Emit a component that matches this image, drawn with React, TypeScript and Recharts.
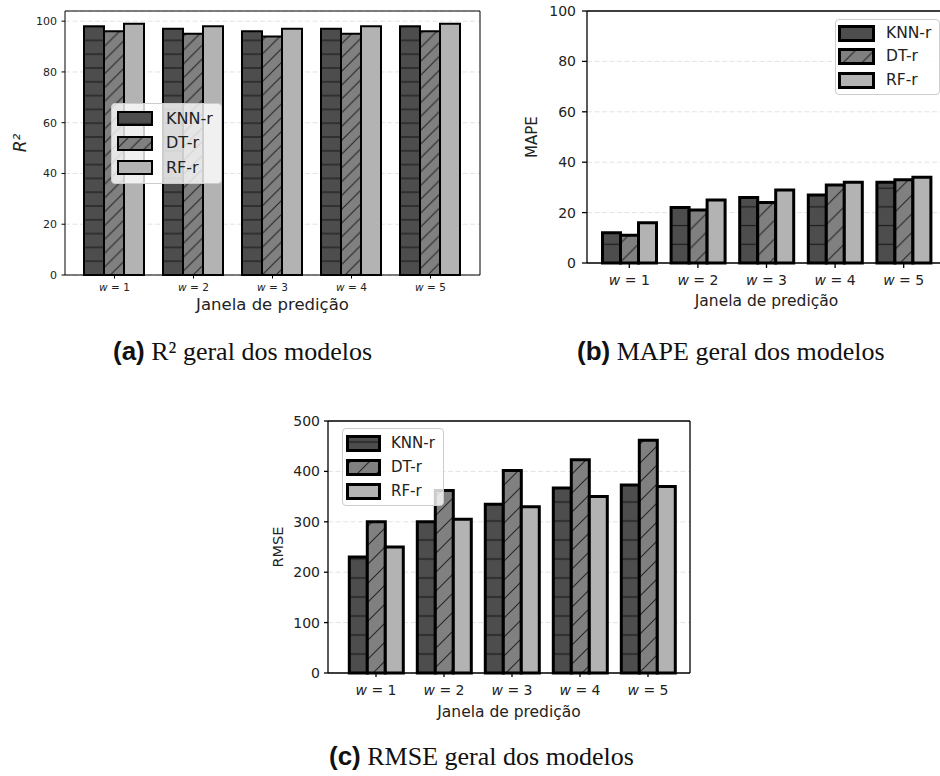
import React from 'react';
import { BarChart, Bar, XAxis, YAxis, CartesianGrid, Legend } from 'recharts';

const windows = [1, 2, 3, 4, 5];

const r2Knn = [98, 97, 96, 97, 98];
const r2Dt = [96, 95, 94, 95, 96];
const r2Rf = [99, 98, 97, 98, 99];

const mapeKnn = [12, 22, 26, 27, 32];
const mapeDt = [11, 21, 24, 31, 33];
const mapeRf = [16, 25, 29, 32, 34];

const rmseKnn = [230, 300, 335, 367, 373];
const rmseDt = [300, 362, 402, 423, 462];
const rmseRf = [250, 305, 330, 350, 370];

const r2Ticks = [0, 20, 40, 60, 80, 100];
const mapeTicks = [0, 20, 40, 60, 80, 100];
const rmseTicks = [0, 100, 200, 300, 400, 500];

const seriesNames = ['KNN-r', 'DT-r', 'RF-r'];
const seriesKeys = ['knn', 'dt', 'rf'];

const FONT = '"DejaVu Sans", Verdana, sans-serif';

type Row = { w: number; knn: number; dt: number; rf: number };

const toRows = (knn: number[], dt: number[], rf: number[]): Row[] =>
  windows.map((w, i) => ({ w, knn: knn[i], dt: dt[i], rf: rf[i] }));

interface PanelProps {
  id: string;
  left: number;
  top: number;
  width: number;
  height: number;
  margin: { top: number; right: number; bottom: number; left: number };
  data: Row[];
  domain: [number, number];
  ticks: number[];
  yLabel: string;
  yLabelItalic?: boolean;
  yLabelX: number;
  yLabelSize: number;
  yAxisWidth: number;
  xAxisHeight: number;
  xPad: { left: number; right: number };
  catGap: number;
  tickSize: number;
  yTickMargin: number;
  xTickMargin: number;
  tickFont: number;
  xTickFont: number;
  xLabelSize: number;
  xLabelBaseline: number;
  hatch: number;
  edge: number;
  spine: number;
  legend: { left: number; top: number; swW: number; swH: number; row: number; gap: number; font: number; padL: number; padT: number; padR: number };
}

function WTick({ x, y, payload, fontSize }: any) {
  return (
    <text x={x} y={y} dy="0.71em" textAnchor="middle" fontSize={fontSize} fill="#222" fontFamily={FONT}>
      <tspan fontStyle="italic">w</tspan>
      <tspan> = {payload.value}</tspan>
    </text>
  );
}

function Panel(p: PanelProps) {
  const plotBottom = p.height - p.margin.bottom - p.xAxisHeight;
  const s = p.hatch;
  const lg = p.legend;

  const legendContent = () => (
    <div
      style={{
        background: 'rgba(255,255,255,0.8)',
        border: '1px solid #cccccc',
        borderRadius: 4,
        padding: `${lg.padT}px ${lg.padR}px ${lg.padT}px ${lg.padL}px`,
        fontFamily: FONT,
      }}
    >
      {seriesKeys.map((k, i) => (
        <div key={k} style={{ display: 'flex', alignItems: 'center', height: lg.row }}>
          <svg width={lg.swW} height={lg.swH} style={{ display: 'block' }}>
            <rect
              x={p.edge / 2}
              y={p.edge / 2}
              width={lg.swW - p.edge}
              height={lg.swH - p.edge}
              fill={`url(#${k}-${p.id})`}
              stroke="#000"
              strokeWidth={p.edge}
            />
          </svg>
          <span style={{ marginLeft: lg.gap, fontSize: lg.font, color: '#222', lineHeight: 1 }}>{seriesNames[i]}</span>
        </div>
      ))}
    </div>
  );

  return (
    <div style={{ position: 'absolute', left: p.left, top: p.top }}>
      <BarChart
        width={p.width}
        height={p.height}
        data={p.data}
        margin={p.margin}
        barGap={0}
        barCategoryGap={p.catGap}
      >
        <defs>
          <pattern id={`knn-${p.id}`} patternUnits="userSpaceOnUse" width={s} height={s} y={plotBottom - s / 2}>
            <rect width={s} height={s} fill="#4d4d4d" />
            <line x1={0} x2={s} y1={s / 2} y2={s / 2} stroke="#1c1c1c" strokeWidth={1.2} />
          </pattern>
          <pattern id={`dt-${p.id}`} patternUnits="userSpaceOnUse" width={s} height={s} y={plotBottom}>
            <rect width={s} height={s} fill="#808080" />
            <path
              d={`M0,${s} L${s},0 M${-s / 2},${s / 2} L${s / 2},${-s / 2} M${s / 2},${1.5 * s} L${1.5 * s},${s / 2}`}
              stroke="#262626"
              strokeWidth={1.1}
            />
          </pattern>
          <pattern id={`rf-${p.id}`} patternUnits="userSpaceOnUse" width={s} height={s}>
            <rect width={s} height={s} fill="#b3b3b3" />
          </pattern>
        </defs>
        <CartesianGrid vertical={false} stroke="#e3e3e3" strokeDasharray="5 2.5" />
        {/* top and right spines */}
        <CartesianGrid
          stroke="#000"
          strokeWidth={p.spine}
          horizontalCoordinatesGenerator={({ offset }: any) => [offset.top]}
          verticalCoordinatesGenerator={({ offset }: any) => [offset.left + offset.width]}
        />
        <XAxis
          dataKey="w"
          height={p.xAxisHeight}
          padding={p.xPad}
          axisLine={{ stroke: '#000', strokeWidth: p.spine }}
          tickLine={{ stroke: '#000', strokeWidth: p.spine }}
          tickSize={p.tickSize}
          tickMargin={p.xTickMargin}
          tick={<WTick fontSize={p.xTickFont} />}
          label={{
            content: (lp: any) => {
              const vb = lp.viewBox;
              return (
                <text
                  x={vb.x + vb.width / 2}
                  y={p.xLabelBaseline}
                  textAnchor="middle"
                  fontSize={p.xLabelSize}
                  fill="#222"
                  fontFamily={FONT}
                >
                  Janela de predição
                </text>
              );
            },
          }}
        />
        <YAxis
          domain={p.domain}
          ticks={p.ticks}
          width={p.yAxisWidth}
          axisLine={{ stroke: '#000', strokeWidth: p.spine }}
          tickLine={{ stroke: '#000', strokeWidth: p.spine }}
          tickSize={p.tickSize}
          tickMargin={p.yTickMargin}
          tick={{ fontSize: p.tickFont, fill: '#222', fontFamily: FONT }}
          label={{
            content: (lp: any) => {
              const vb = lp.viewBox;
              const cy = vb.y + vb.height / 2;
              return (
                <text
                  x={p.yLabelX}
                  y={cy}
                  transform={`rotate(-90 ${p.yLabelX} ${cy})`}
                  textAnchor="middle"
                  dominantBaseline="central"
                  fontSize={p.yLabelSize}
                  fontStyle={p.yLabelItalic ? 'italic' : 'normal'}
                  fill="#222"
                  fontFamily={FONT}
                >
                  {p.yLabel}
                </text>
              );
            },
          }}
        />
        <Legend
          layout="horizontal"
          verticalAlign="middle"
          align="center"
          content={legendContent}
          wrapperStyle={{ left: lg.left, top: lg.top, width: 'auto' }}
        />
        {seriesKeys.map((k, i) => (
          <Bar
            key={k}
            dataKey={k}
            name={seriesNames[i]}
            fill={`url(#${k}-${p.id})`}
            stroke="#000"
            strokeWidth={p.edge}
            isAnimationActive={false}
          />
        ))}
      </BarChart>
    </div>
  );
}

const captionStyle: React.CSSProperties = {
  position: 'absolute',
  fontFamily: '"Liberation Serif", "Times New Roman", serif',
  fontSize: 26,
  lineHeight: '30px',
  color: '#111',
  whiteSpace: 'nowrap',
};

const tagStyle: React.CSSProperties = {
  fontFamily: '"Liberation Sans", Arial, sans-serif',
  fontWeight: 'bold',
};

export default function App() {
  const r2Data = toRows(r2Knn, r2Dt, r2Rf);
  const mapeData = toRows(mapeKnn, mapeDt, mapeRf);
  const rmseData = toRows(rmseKnn, rmseDt, rmseRf);

  return (
    <div style={{ position: 'absolute', left: 0, top: 0, width: 940, height: 776, overflow: 'hidden', background: '#fff' }}>
      <Panel
        id="a"
        left={0}
        top={0}
        width={490}
        height={320}
        margin={{ top: 11, right: 10, bottom: 0, left: 0 }}
        data={r2Data}
        domain={[0, 104]}
        ticks={r2Ticks}
        yLabel="R²"
        yLabelItalic
        yLabelX={20}
        yLabelSize={17}
        yAxisWidth={65}
        xAxisHeight={45}
        xPad={{ left: 10, right: 10 }}
        catGap={9}
        tickSize={3.5}
        yTickMargin={4.5}
        xTickMargin={5.5}
        tickFont={11}
        xTickFont={10.5}
        xLabelSize={16.5}
        xLabelBaseline={310}
        hatch={13.8}
        edge={2}
        spine={1}
        legend={{ left: 111, top: 103, swW: 36, swH: 15, row: 24.5, gap: 13, font: 16, padL: 5, padT: 2.5, padR: 8 }}
      />
      <Panel
        id="b"
        left={470}
        top={0}
        width={480}
        height={320}
        margin={{ top: 11, right: 4, bottom: 13, left: 0 }}
        data={mapeData}
        domain={[0, 100]}
        ticks={mapeTicks}
        yLabel="MAPE"
        yLabelX={62}
        yLabelSize={15}
        yAxisWidth={117}
        xAxisHeight={44}
        xPad={{ left: 8, right: 8 }}
        catGap={7.5}
        tickSize={5}
        yTickMargin={6}
        xTickMargin={7}
        tickFont={14}
        xTickFont={14}
        xLabelSize={15.5}
        xLabelBaseline={306}
        hatch={18.7}
        edge={3}
        spine={1.3}
        legend={{ left: 365, top: 19, swW: 37, swH: 17, row: 23.5, gap: 11, font: 15.5, padL: 2, padT: 1.5, padR: 8 }}
      />
      <Panel
        id="c"
        left={240}
        top={400}
        width={460}
        height={330}
        margin={{ top: 21, right: 10, bottom: 12, left: 0 }}
        data={rmseData}
        domain={[0, 500]}
        ticks={rmseTicks}
        yLabel="RMSE"
        yLabelX={38}
        yLabelSize={14.5}
        yAxisWidth={88}
        xAxisHeight={45}
        xPad={{ left: 14, right: 8 }}
        catGap={7.3}
        tickSize={4}
        yTickMargin={4}
        xTickMargin={8}
        tickFont={14}
        xTickFont={14}
        xLabelSize={15.5}
        xLabelBaseline={317}
        hatch={19}
        edge={3}
        spine={1.3}
        legend={{ left: 102, top: 28, swW: 35, swH: 17, row: 24, gap: 10, font: 15, padL: 3, padT: 2, padR: 8 }}
      />
      <div style={{ ...captionStyle, left: 113, top: 336 }}>
        <span style={tagStyle}>(a)</span> R² geral dos modelos
      </div>
      <div style={{ ...captionStyle, left: 577, top: 336 }}>
        <span style={tagStyle}>(b)</span> MAPE geral dos modelos
      </div>
      <div style={{ ...captionStyle, left: 329, top: 741 }}>
        <span style={tagStyle}>(c)</span> RMSE geral dos modelos
      </div>
    </div>
  );
}
